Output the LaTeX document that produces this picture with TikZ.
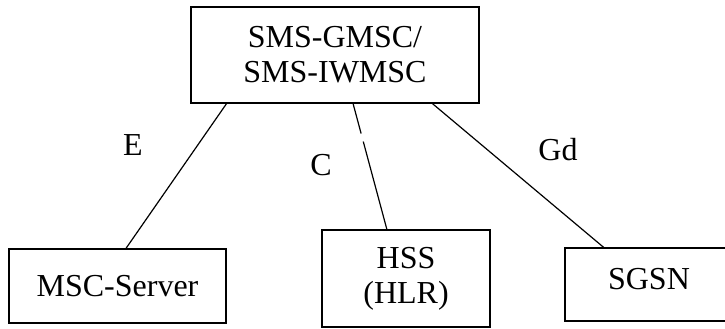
\documentclass[tikz,border=0pt]{standalone}
\usepackage{fontspec}
\setmainfont{Liberation Serif}
\usetikzlibrary{calc}
\begin{document}
\begin{tikzpicture}[x=1pt,y=-1pt,
  box/.style={draw,line width=1.3pt,align=center,inner sep=0pt,font=\fontsize{32}{35}\selectfont},
  lbl/.style={inner sep=0pt,font=\fontsize{32}{35}\selectfont},
  link/.style={line width=1.2pt}]
\useasboundingbox (0,0) rectangle (725,329);
\node[box,minimum width=288pt,minimum height=96pt] (gmsc) at (335,55) {SMS-GMSC/\\SMS-IWMSC};
\node[box,minimum width=217pt,minimum height=74pt] (msc) at (117.5,286) {MSC-Server};
\node[box,minimum width=168pt,minimum height=97pt] (hss) at (406,278.5) {HSS\\(HLR)};
\node[box,minimum width=168pt,minimum height=73pt] (sgsn) at (649,284.5) {\raisebox{12pt}{SGSN}};
\node[lbl] (le) at (133,145) {E};
\node[lbl] (lc) at (321,165) {C};
\node[lbl] (lgd) at (558,150) {Gd};
\draw[link] ($(gmsc.south west)!0.125!(gmsc.south east)$) -- ($(msc.north west)!0.539!(msc.north east)$);
\draw[link,dash pattern=on 31pt off 8.3pt on 300pt] ($(gmsc.south west)!0.5625!(gmsc.south east)$) -- ($(hss.north west)!0.387!(hss.north east)$);
\draw[link] ($(gmsc.south west)!0.837!(gmsc.south east)$) -- ($(sgsn.north west)!0.232!(sgsn.north east)$);
\end{tikzpicture}
\end{document}
